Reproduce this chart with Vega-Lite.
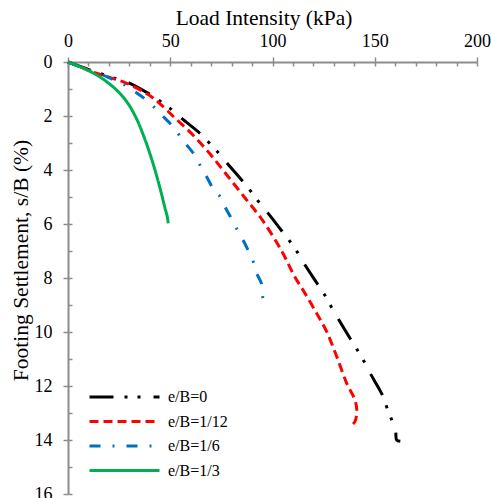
{
  "$schema": "https://vega.github.io/schema/vega-lite/v6.json",
  "width": 409,
  "height": 432,
  "autosize": {"type": "none"},
  "padding": {"left": 68, "top": 62, "right": 14, "bottom": 4},
  "background": "white",
  "config": {
    "view": {"stroke": null},
    "font": "Liberation Serif",
    "style": {
      "guide-label": {"font": "Liberation Serif", "fill": "#000000"},
      "guide-title": {"font": "Liberation Serif", "fill": "#000000", "fontWeight": "normal"}
    },
    "axis": {
      "grid": false,
      "domainColor": "#8c8c8c",
      "domainWidth": 2,
      "tickColor": "#8c8c8c",
      "tickWidth": 1.5,
      "labelFont": "Liberation Serif",
      "labelFontSize": 18,
      "labelColor": "#000000",
      "titleFont": "Liberation Serif",
      "titleFontSize": 21.5,
      "titleFontWeight": "normal",
      "titleColor": "#000000"
    },
    "legend": {
      "labelFont": "Liberation Serif",
      "labelFontSize": 16,
      "labelColor": "#000000"
    }
  },
  "data": {
    "values": [
      {"s": "e/B=0", "i": 1, "x": 0, "y": 0},
      {"s": "e/B=0", "i": 2, "x": 10.8, "y": 0.3},
      {"s": "e/B=0", "i": 3, "x": 23.5, "y": 0.62},
      {"s": "e/B=0", "i": 4, "x": 30, "y": 0.78},
      {"s": "e/B=0", "i": 5, "x": 39.9, "y": 1.19},
      {"s": "e/B=0", "i": 6, "x": 45.3, "y": 1.46},
      {"s": "e/B=0", "i": 7, "x": 50.8, "y": 1.77},
      {"s": "e/B=0", "i": 8, "x": 55.6, "y": 2.09},
      {"s": "e/B=0", "i": 9, "x": 64.5, "y": 2.64},
      {"s": "e/B=0", "i": 10, "x": 69, "y": 2.99},
      {"s": "e/B=0", "i": 11, "x": 73.5, "y": 3.36},
      {"s": "e/B=0", "i": 12, "x": 77.6, "y": 3.73},
      {"s": "e/B=0", "i": 13, "x": 85.5, "y": 4.42},
      {"s": "e/B=0", "i": 14, "x": 89.5, "y": 4.8},
      {"s": "e/B=0", "i": 15, "x": 93.5, "y": 5.2},
      {"s": "e/B=0", "i": 16, "x": 97.6, "y": 5.58},
      {"s": "e/B=0", "i": 17, "x": 104.8, "y": 6.28},
      {"s": "e/B=0", "i": 18, "x": 108.6, "y": 6.65},
      {"s": "e/B=0", "i": 19, "x": 112.4, "y": 7.07},
      {"s": "e/B=0", "i": 20, "x": 115.9, "y": 7.52},
      {"s": "e/B=0", "i": 21, "x": 122.1, "y": 8.23},
      {"s": "e/B=0", "i": 22, "x": 125.7, "y": 8.65},
      {"s": "e/B=0", "i": 23, "x": 128.9, "y": 9.09},
      {"s": "e/B=0", "i": 24, "x": 132.2, "y": 9.52},
      {"s": "e/B=0", "i": 25, "x": 138.2, "y": 10.27},
      {"s": "e/B=0", "i": 26, "x": 141.5, "y": 10.67},
      {"s": "e/B=0", "i": 27, "x": 145, "y": 11.12},
      {"s": "e/B=0", "i": 28, "x": 148, "y": 11.56},
      {"s": "e/B=0", "i": 29, "x": 153.7, "y": 12.33},
      {"s": "e/B=0", "i": 30, "x": 155.8, "y": 12.77},
      {"s": "e/B=0", "i": 31, "x": 158.3, "y": 13.26},
      {"s": "e/B=0", "i": 32, "x": 160.2, "y": 13.69},
      {"s": "e/B=0", "i": 33, "x": 160.7, "y": 14.0},
      {"s": "e/B=0", "i": 34, "x": 162.5, "y": 14.05},

      {"s": "e/B=1/12", "i": 1, "x": 0, "y": 0},
      {"s": "e/B=1/12", "i": 2, "x": 3.9, "y": 0.1},
      {"s": "e/B=1/12", "i": 3, "x": 11.2, "y": 0.35},
      {"s": "e/B=1/12", "i": 4, "x": 18.6, "y": 0.53},
      {"s": "e/B=1/12", "i": 5, "x": 28.4, "y": 0.78},
      {"s": "e/B=1/12", "i": 6, "x": 40.1, "y": 1.25},
      {"s": "e/B=1/12", "i": 7, "x": 45, "y": 1.55},
      {"s": "e/B=1/12", "i": 8, "x": 52, "y": 2.05},
      {"s": "e/B=1/12", "i": 9, "x": 61.3, "y": 2.72},
      {"s": "e/B=1/12", "i": 10, "x": 69.4, "y": 3.4},
      {"s": "e/B=1/12", "i": 11, "x": 77, "y": 4.12},
      {"s": "e/B=1/12", "i": 12, "x": 86, "y": 4.98},
      {"s": "e/B=1/12", "i": 13, "x": 95, "y": 5.85},
      {"s": "e/B=1/12", "i": 14, "x": 104.5, "y": 7.0},
      {"s": "e/B=1/12", "i": 15, "x": 110.5, "y": 7.9},
      {"s": "e/B=1/12", "i": 16, "x": 115.9, "y": 8.57},
      {"s": "e/B=1/12", "i": 17, "x": 121.6, "y": 9.31},
      {"s": "e/B=1/12", "i": 18, "x": 126.5, "y": 9.99},
      {"s": "e/B=1/12", "i": 19, "x": 131.4, "y": 10.91},
      {"s": "e/B=1/12", "i": 20, "x": 136.3, "y": 11.9},
      {"s": "e/B=1/12", "i": 21, "x": 140.3, "y": 12.52},
      {"s": "e/B=1/12", "i": 22, "x": 141.2, "y": 12.89},
      {"s": "e/B=1/12", "i": 23, "x": 140.3, "y": 13.32},
      {"s": "e/B=1/12", "i": 24, "x": 137.9, "y": 13.5},

      {"s": "e/B=1/6", "i": 1, "x": 0, "y": 0},
      {"s": "e/B=1/6", "i": 2, "x": 11, "y": 0.33},
      {"s": "e/B=1/6", "i": 3, "x": 18.6, "y": 0.53},
      {"s": "e/B=1/6", "i": 4, "x": 21.9, "y": 0.65},
      {"s": "e/B=1/6", "i": 5, "x": 27.5, "y": 0.84},
      {"s": "e/B=1/6", "i": 6, "x": 33.3, "y": 1.13},
      {"s": "e/B=1/6", "i": 7, "x": 38, "y": 1.39},
      {"s": "e/B=1/6", "i": 8, "x": 42.2, "y": 1.68},
      {"s": "e/B=1/6", "i": 9, "x": 46.4, "y": 2.01},
      {"s": "e/B=1/6", "i": 10, "x": 50.5, "y": 2.32},
      {"s": "e/B=1/6", "i": 11, "x": 54.3, "y": 2.7},
      {"s": "e/B=1/6", "i": 12, "x": 58, "y": 3.07},
      {"s": "e/B=1/6", "i": 13, "x": 61.3, "y": 3.38},
      {"s": "e/B=1/6", "i": 14, "x": 64.5, "y": 3.81},
      {"s": "e/B=1/6", "i": 15, "x": 67.8, "y": 4.25},
      {"s": "e/B=1/6", "i": 16, "x": 71.4, "y": 4.74},
      {"s": "e/B=1/6", "i": 17, "x": 74.3, "y": 4.98},
      {"s": "e/B=1/6", "i": 18, "x": 77, "y": 5.4},
      {"s": "e/B=1/6", "i": 19, "x": 79.6, "y": 5.76},
      {"s": "e/B=1/6", "i": 20, "x": 82.5, "y": 6.18},
      {"s": "e/B=1/6", "i": 21, "x": 85.5, "y": 6.58},
      {"s": "e/B=1/6", "i": 22, "x": 88, "y": 6.96},
      {"s": "e/B=1/6", "i": 23, "x": 90.6, "y": 7.4},
      {"s": "e/B=1/6", "i": 24, "x": 92.3, "y": 7.83},
      {"s": "e/B=1/6", "i": 25, "x": 94.7, "y": 8.23},
      {"s": "e/B=1/6", "i": 26, "x": 95.2, "y": 8.69},
      {"s": "e/B=1/6", "i": 27, "x": 95.5, "y": 8.8},

      {"s": "e/B=1/3", "i": 1, "x": 0, "y": 0},
      {"s": "e/B=1/3", "i": 2, "x": 7.2, "y": 0.22},
      {"s": "e/B=1/3", "i": 3, "x": 15.3, "y": 0.54},
      {"s": "e/B=1/3", "i": 4, "x": 23.5, "y": 1.02},
      {"s": "e/B=1/3", "i": 5, "x": 29, "y": 1.5},
      {"s": "e/B=1/3", "i": 6, "x": 33.5, "y": 2.1},
      {"s": "e/B=1/3", "i": 7, "x": 37.3, "y": 2.8},
      {"s": "e/B=1/3", "i": 8, "x": 40.5, "y": 3.5},
      {"s": "e/B=1/3", "i": 9, "x": 43.3, "y": 4.2},
      {"s": "e/B=1/3", "i": 10, "x": 45.6, "y": 4.85},
      {"s": "e/B=1/3", "i": 11, "x": 47.4, "y": 5.4},
      {"s": "e/B=1/3", "i": 12, "x": 48.6, "y": 5.75},
      {"s": "e/B=1/3", "i": 13, "x": 49, "y": 5.98}
    ]
  },
  "layer": [
    {
      "mark": {"type": "line", "strokeWidth": 3, "clip": false, "interpolate": "catmull-rom"},
      "encoding": {
        "x": {
          "field": "x", "type": "quantitative",
          "scale": {"domain": [0, 200], "nice": false, "zero": false},
          "axis": {
            "orient": "top",
            "title": "Load Intensity (kPa)",
            "values": [0, 50, 100, 150, 200],
            "tickSize": 5,
            "labelPadding": 11,
            "labelBaseline": "alphabetic",
            "labelFont": "Liberation Serif",
            "labelFontSize": 18,
            "titleFont": "Liberation Serif",
            "titleFontSize": 21.5,
            "titleX": 195.5,
            "titleY": -38,
            "titleBaseline": "alphabetic",
            "titleAlign": "center",
            "labelFlush": false,
            "labelOverlap": false
          }
        },
        "y": {
          "field": "y", "type": "quantitative",
          "scale": {"domain": [0, 16], "reverse": true, "nice": false, "zero": false},
          "axis": {
            "title": "Footing Settlement, s/B (%)",
            "values": [0, 2, 4, 6, 8, 10, 12, 14, 16],
            "tickSize": 5,
            "labelPadding": 11,
            "labelFont": "Liberation Serif",
            "labelFontSize": 18,
            "titleFont": "Liberation Serif",
            "titleFontSize": 21.5,
            "titleX": -41,
            "titleY": 198,
            "titleAngle": -90,
            "titleBaseline": "alphabetic",
            "titleAlign": "center",
            "labelFlush": false,
            "labelOverlap": false
          }
        },
        "order": {"field": "i", "type": "quantitative"},
        "color": {
          "field": "s", "type": "nominal",
          "scale": {
            "domain": ["e/B=0", "e/B=1/12", "e/B=1/6", "e/B=1/3"],
            "range": ["#000000", "#ff0000", "#0070c0", "#00b050"]
          },
          "legend": {
            "title": null,
            "orient": "none",
            "legendX": 20,
            "legendY": 327,
            "symbolType": "stroke",
            "symbolSize": 4900,
            "symbolStrokeWidth": 3,
            "clipHeight": 16,
            "rowPadding": 8.5,
            "labelOffset": 7,
            "labelFont": "Liberation Serif",
            "labelFontSize": 16
          }
        },
        "strokeDash": {
          "field": "s", "type": "nominal",
          "scale": {
            "domain": ["e/B=0", "e/B=1/12", "e/B=1/6", "e/B=1/3"],
            "range": [[24, 11, 3, 10, 3, 13], [9, 5], [11, 12, 2, 12], [1, 0]]
          },
          "legend": {
            "title": null,
            "orient": "none",
            "legendX": 20,
            "legendY": 327,
            "symbolType": "stroke",
            "symbolSize": 4900,
            "symbolStrokeWidth": 3,
            "clipHeight": 16,
            "rowPadding": 8.5,
            "labelOffset": 7,
            "labelFont": "Liberation Serif",
            "labelFontSize": 16
          }
        }
      }
    },
    {
      "mark": {"type": "point", "opacity": 0},
      "encoding": {
        "x": {
          "field": "x", "type": "quantitative",
          "scale": {"domain": [0, 200], "nice": false, "zero": false},
          "axis": {
            "orient": "top",
            "title": null,
            "values": [0, 10, 20, 30, 40, 50, 60, 70, 80, 90, 100, 110, 120, 130, 140, 150, 160, 170, 180, 190, 200],
            "tickSize": -4,
            "labels": false,
            "domain": false
          }
        },
        "y": {
          "field": "y", "type": "quantitative",
          "scale": {"domain": [0, 16], "reverse": true, "nice": false, "zero": false},
          "axis": {
            "orient": "left",
            "title": null,
            "values": [0, 1, 2, 3, 4, 5, 6, 7, 8, 9, 10, 11, 12, 13, 14, 15, 16],
            "tickSize": -4,
            "labels": false,
            "domain": false
          }
        }
      }
    }
  ],
  "resolve": {"axis": {"x": "independent", "y": "independent"}}
}
